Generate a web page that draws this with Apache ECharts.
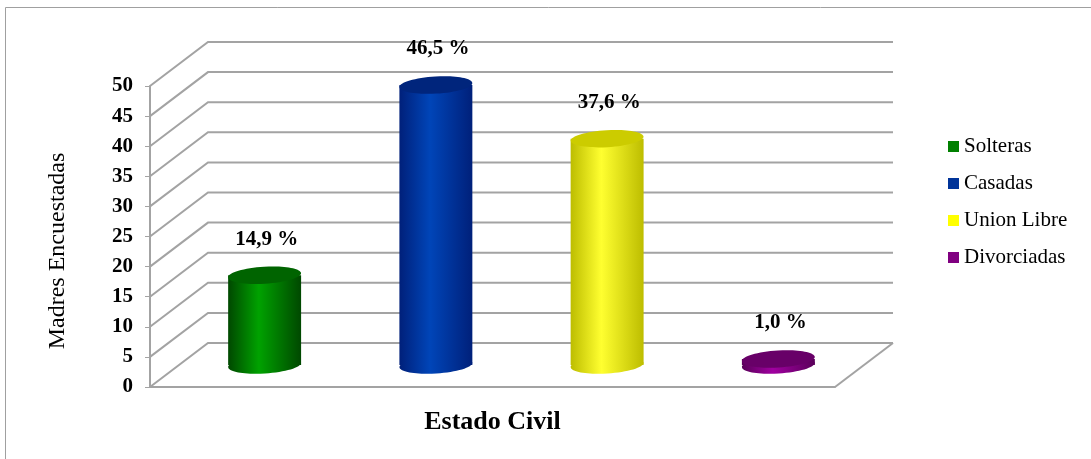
<!DOCTYPE html>
<html>
<head>
<meta charset="utf-8">
<script src="https://cdn.jsdelivr.net/npm/echarts@6/dist/echarts.min.js"></script>
<style>
  html, body { margin: 0; padding: 0; background: #ffffff; }
  #chart { width: 1091px; height: 459px; }
</style>
</head>
<body>
<div id="chart"></div>
<script>
// Estado civil de las madres encuestadas (porcentaje)
const categories = ['Solteras', 'Casadas', 'Union Libre', 'Divorciadas'];
const values = [14.9, 46.5, 37.6, 1.0];
const seriesColors = ['#008000', '#003399', '#ffff00', '#800080'];
const yTicks = [0, 5, 10, 15, 20, 25, 30, 35, 40, 45, 50];

const FONT = '"Liberation Serif", "Times New Roman", serif';
const GRID_COLOR = '#a3a3a3';
// pixel offset from the front plane to the back wall (pseudo 3D depth)
const DEPTH = [58, -44];
// cylinder shading: dark edges, bright centre, darker cap
const shades = [
  { edge: '#004800', mid: '#00a200', top: '#006400' },
  { edge: '#00207a', mid: '#0045b8', top: '#00257c' },
  { edge: '#bdbd00', mid: '#ffff30', top: '#cccc00' },
  { edge: '#5a005a', mid: '#a000a0', top: '#680068' }
];

function bodyGradient(s) {
  return new echarts.graphic.LinearGradient(0, 0, 1, 0, [
    { offset: 0, color: s.edge },
    { offset: 0.42, color: s.mid },
    { offset: 1, color: s.edge }
  ]);
}

// back wall grid lines plus the side wall and floor diagonals
function renderFrame(params, api) {
  const v = api.value(1);
  const band = api.size([1, 0])[0];
  const first = api.coord([0, v]);
  const last = api.coord([categories.length - 1, v]);
  const x0 = first[0] - band / 2;
  const x1 = last[0] + band / 2;
  const y = first[1];
  const children = [{
    type: 'polyline',
    shape: { points: [[x0, y], [x0 + DEPTH[0], y + DEPTH[1]], [x1 + DEPTH[0], y + DEPTH[1]]] },
    style: { stroke: GRID_COLOR, lineWidth: 2, fill: null }
  }];
  if (v === yTicks[0]) {
    children.push({
      type: 'line',
      shape: { x1: x1, y1: y, x2: x1 + DEPTH[0], y2: y + DEPTH[1] },
      style: { stroke: GRID_COLOR, lineWidth: 2 }
    });
  }
  return { type: 'group', children: children };
}

function makeCylinder(idx) {
  return function (params, api) {
    const i = api.value(0);
    const v = api.value(1);
    const band = api.size([1, 0])[0];
    const base = api.coord([i, 0]);
    const top = api.coord([i, v]);
    const cx = base[0] + DEPTH[0] / 2;
    const by = base[1] + DEPTH[1] / 2;
    const ty = top[1] + DEPTH[1] / 2;
    const rx = band * 0.213;
    const ry = 8.5;
    const tilt = 0.06;
    const s = shades[idx];
    return {
      type: 'group',
      children: [
        {
          type: 'ellipse',
          shape: { cx: cx, cy: by, rx: rx, ry: ry },
          rotation: tilt, originX: cx, originY: by,
          style: { fill: bodyGradient(s) }
        },
        {
          type: 'rect',
          shape: { x: cx - rx, y: ty, width: rx * 2, height: Math.max(by - ty, 0) },
          style: { fill: bodyGradient(s) }
        },
        {
          type: 'ellipse',
          shape: { cx: cx, cy: ty, rx: rx, ry: ry },
          rotation: tilt, originX: cx, originY: ty,
          style: { fill: s.top }
        },
        {
          type: 'text',
          x: cx + 2, y: ty - 36,
          style: {
            text: v.toFixed(1).replace('.', ',') + ' %',
            fill: '#000000',
            font: 'bold 21px ' + FONT,
            align: 'center',
            verticalAlign: 'middle'
          }
        }
      ]
    };
  };
}

const series = [{
  type: 'custom',
  name: 'frame',
  data: yTicks.map(function (v) { return [0, v]; }),
  encode: { x: 0, y: 1 },
  renderItem: renderFrame,
  clip: false,
  silent: true,
  z: 1
}];
categories.forEach(function (name, i) {
  series.push({
    type: 'custom',
    name: name,
    data: [[i, values[i]]],
    encode: { x: 0, y: 1 },
    itemStyle: { color: seriesColors[i] },
    renderItem: makeCylinder(i),
    clip: false,
    z: 3
  });
});

const chart = echarts.init(document.getElementById('chart'), null, { renderer: 'canvas' });
chart.setOption({
  animation: false,
  backgroundColor: '#ffffff',
  grid: { left: 150, right: 256, top: 86, bottom: 72 },
  xAxis: {
    type: 'category',
    data: categories,
    name: 'Estado Civil',
    nameLocation: 'middle',
    nameGap: 22,
    nameTextStyle: { fontFamily: FONT, fontWeight: 'bold', fontSize: 26, color: '#000000' },
    axisLine: { show: true, lineStyle: { color: GRID_COLOR, width: 2 } },
    axisTick: { show: false },
    axisLabel: { show: false },
    splitLine: { show: false }
  },
  yAxis: {
    type: 'value',
    min: yTicks[0],
    max: yTicks[yTicks.length - 1],
    interval: yTicks[1] - yTicks[0],
    axisLine: { show: true, lineStyle: { color: GRID_COLOR, width: 2 } },
    axisTick: { show: true, inside: false, length: 5, lineStyle: { color: GRID_COLOR, width: 1 } },
    axisLabel: { margin: 17, fontFamily: FONT, fontWeight: 'bold', fontSize: 21, color: '#000000' },
    splitLine: { show: false }
  },
  legend: {
    orient: 'vertical',
    left: 943,
    top: 131,
    itemWidth: 11,
    itemHeight: 11,
    itemGap: 16,
    icon: 'rect',
    data: categories,
    textStyle: { fontFamily: FONT, fontSize: 21, color: '#000000' }
  },
  graphic: [
    {
      type: 'rect',
      shape: { x: 5.5, y: 7.5, width: 1100, height: 470 },
      style: { fill: null, stroke: '#a0a0a0', lineWidth: 1 },
      silent: true
    },
    {
      type: 'text',
      x: 58, y: 251,
      rotation: Math.PI / 2,
      style: {
        text: 'Madres Encuestadas',
        font: '24px ' + FONT,
        fill: '#000000',
        align: 'center',
        verticalAlign: 'middle'
      }
    }
  ],
  series: series
});
</script>
</body>
</html>
